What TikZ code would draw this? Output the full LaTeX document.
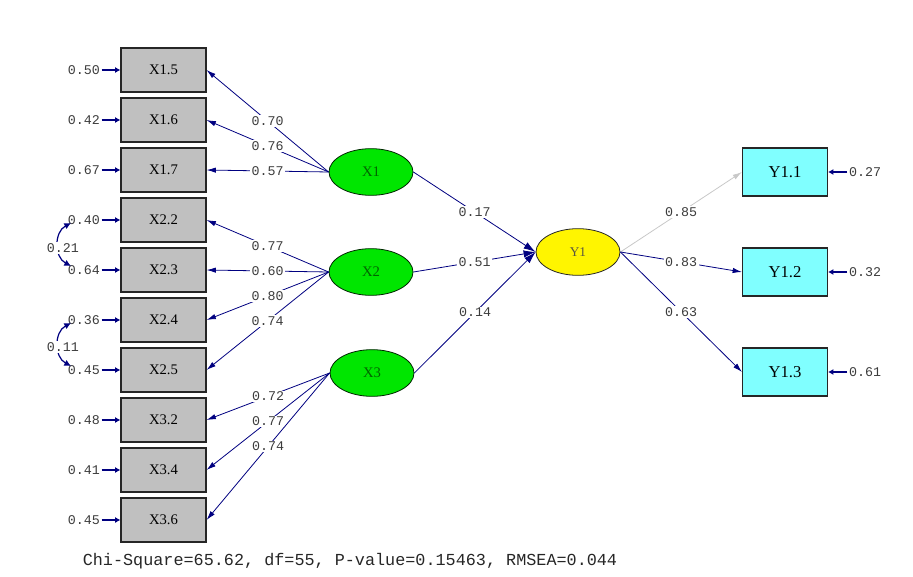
\documentclass[tikz,border=0pt]{standalone}
\usepackage{fontspec}
\setmainfont{Liberation Serif}
\setmonofont{Liberation Mono}
\usetikzlibrary{arrows.meta,shapes.geometric}
\definecolor{navy}{HTML}{000080}
\definecolor{boxgray}{HTML}{C0C0C0}
\definecolor{latgreen}{HTML}{00E600}
\definecolor{latyellow}{HTML}{FFF500}
\definecolor{ycyan}{HTML}{80FFFF}
\definecolor{labgray}{HTML}{3C3C3C}
\definecolor{lightarr}{HTML}{C8C8C8}
\begin{document}
\begin{tikzpicture}[x=0.75pt,y=-0.75pt,
  obs/.style={draw=black!85,fill=boxgray,minimum width=63.75pt,minimum height=33pt,inner sep=0pt,line width=0.8pt,font=\fontsize{11}{13}\selectfont},
  yobs/.style={obs,fill=ycyan,minimum height=36pt,font=\fontsize{12.5}{14}\selectfont},
  lat/.style={ellipse,draw=black!85!green,fill=latgreen,minimum width=63pt,minimum height=35pt,inner sep=0pt,line width=0.6pt,text=black!60!green,font=\fontsize{11}{13}\selectfont},
  laty/.style={lat,fill=latyellow,draw=black!85,text=black!75!yellow,font=\fontsize{10}{12}\selectfont},
  lab/.style={font=\ttfamily\fontsize{10}{12}\selectfont,text=labgray,fill=white,inner sep=1pt},
  load/.style={draw=navy,line width=0.6pt,-{Latex[length=7pt,width=4pt]}},
  path/.style={draw=navy,line width=0.6pt,-{Latex[length=9pt,width=5.5pt]}},
  err/.style={draw=navy,line width=1.3pt,-{Latex[length=4pt,width=4.5pt]}},
  cov/.style={draw=navy,line width=0.9pt,{Latex[length=5pt,width=5pt]}-{Latex[length=5pt,width=5pt]}},
]
\useasboundingbox (0,0) rectangle (913,577);

% observed X boxes
\node[obs] (b15) at (163.5,70) {X1.5};
\node[obs] (b16) at (163.5,120) {X1.6};
\node[obs] (b17) at (163.5,170) {X1.7};
\node[obs] (b22) at (163.5,220) {X2.2};
\node[obs] (b23) at (163.5,270) {X2.3};
\node[obs] (b24) at (163.5,320) {X2.4};
\node[obs] (b25) at (163.5,370) {X2.5};
\node[obs] (b32) at (163.5,420) {X3.2};
\node[obs] (b34) at (163.5,470) {X3.4};
\node[obs] (b36) at (163.5,520) {X3.6};

% latent
\node[lat] (X1) at (371,172) {X1};
\node[lat] (X2) at (371,272) {X2};
\node[lat] (X3) at (372,373) {X3};
\node[laty] (Y1) at (578,252) {Y1};

% Y boxes
\node[yobs] (y11) at (785,172) {Y1.1};
\node[yobs] (y12) at (785,272) {Y1.2};
\node[yobs] (y13) at (785,372) {Y1.3};

% loadings
\draw[load] (X1.west) -- node[lab]{0.70} (b15.east);
\draw[load] (X1.west) -- node[lab]{0.76} (b16.east);
\draw[load] (X1.west) -- node[lab]{0.57} (b17.east);
\draw[load] (X2.west) -- node[lab]{0.77} (b22.east);
\draw[load] (X2.west) -- node[lab]{0.60} (b23.east);
\draw[load] (X2.west) -- node[lab]{0.80} (b24.east);
\draw[load] (X2.west) -- node[lab]{0.74} (b25.east);
\draw[load] (X3.west) -- node[lab]{0.72} (b32.east);
\draw[load] (X3.west) -- node[lab]{0.77} (b34.east);
\draw[load] (X3.west) -- node[lab]{0.74} (b36.east);

% structural
\draw[path] (X1.east) -- node[lab]{0.17} (Y1.west);
\draw[path] (X2.east) -- node[lab]{0.51} (Y1.west);
\draw[path] (X3.east) -- node[lab]{0.14} (Y1.west);

% Y loadings
\draw[load,draw=lightarr] (Y1.east) -- node[lab]{0.85} (y11.west);
\draw[load] (Y1.east) -- node[lab]{0.83} (y12.west);
\draw[load] (Y1.east) -- node[lab]{0.63} (y13.west);

% error terms left
\foreach \n/\v/\yy in {15/0.50/70,16/0.42/120,17/0.67/170,22/0.40/220,23/0.64/270,24/0.36/320,25/0.45/370,32/0.48/420,34/0.41/470,36/0.45/520}{
  \node[lab,fill=none] (e\n) at (84,\yy) {\v};
  \draw[err] (e\n.east) -- (b\n.west);
}
% error terms right
\node[lab,fill=none] (f11) at (865,172) {0.27};
\node[lab,fill=none] (f12) at (865,272) {0.32};
\node[lab,fill=none] (f13) at (865,372) {0.61};
\draw[err] (f11.west) -- (y11.east);
\draw[err] (f12.west) -- (y12.east);
\draw[err] (f13.west) -- (y13.east);

% covariances
\coordinate (c1a) at (71,223);
\coordinate (c1b) at (71,266);
\coordinate (c2a) at (71,323);
\coordinate (c2b) at (71,366);
\draw[cov] (c1a) .. controls (54,232) and (54,257) .. (c1b);
\draw[cov] (c2a) .. controls (54,332) and (54,357) .. (c2b);
\node[lab] (k1) at (63,248) {0.21};
\node[lab] (k2) at (63,347) {0.11};

% fit statistics
\node[font=\ttfamily\fontsize{12.6}{15}\selectfont,text=black!85,inner sep=0pt] (fit) at (350,561) {Chi-Square=65.62, df=55, P-value=0.15463, RMSEA=0.044};
\end{tikzpicture}
\end{document}
